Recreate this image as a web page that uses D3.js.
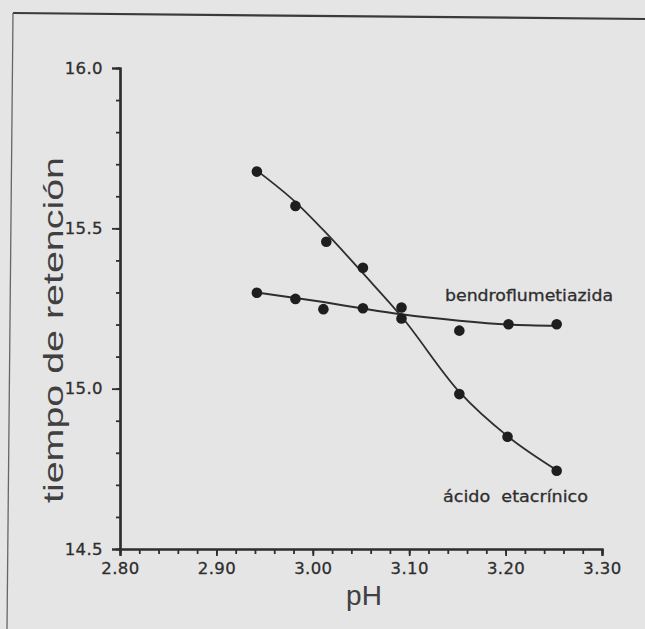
<!DOCTYPE html>
<html>
<head>
<meta charset="utf-8">
<script src="https://cdn.jsdelivr.net/npm/d3@7"></script>
<style>
  html, body { margin: 0; padding: 0; background: #e5e5e5; }
  svg { display: block; }
</style>
</head>
<body>
<div id="chart"></div>
<script>
var width = 645,
    height = 629;

// measured points, acido etacrinico
var phAcido = [2.942, 2.982, 3.014, 3.052, 3.092, 3.152, 3.202, 3.253];
var tAcido  = [15.677, 15.570, 15.458, 15.377, 15.219, 14.983, 14.850, 14.744];
// fitted curve at the same pH values
var fitAcido = [15.680, 15.582, 15.485, 15.360, 15.225, 14.990, 14.852, 14.746];

// measured points, bendroflumetiazida
var phBendro = [2.942, 2.982, 3.011, 3.052, 3.092, 3.152, 3.203, 3.253];
var tBendro  = [15.299, 15.280, 15.248, 15.251, 15.253, 15.181, 15.201, 15.201];
var fitBendro = [15.300, 15.283, 15.270, 15.250, 15.232, 15.212, 15.200, 15.196];

var xTicks = [2.80, 2.90, 3.00, 3.10, 3.20, 3.30];
var yTicks = [14.5, 15.0, 15.5, 16.0];

var ink = "#2e2e2e";

var svg = d3.select("#chart").append("svg")
  .attr("width", width)
  .attr("height", height);

svg.append("rect")
  .attr("width", width)
  .attr("height", height)
  .attr("fill", "#e5e5e5");

// scanned page frame
svg.append("path")
  .attr("d", "M645,19 L13,13")
  .attr("stroke", "#3a3a3a")
  .attr("stroke-width", 2.2)
  .attr("fill", "none");
svg.append("path")
  .attr("d", "M13,13 L7,629")
  .attr("stroke", "#666")
  .attr("stroke-width", 1.3)
  .attr("fill", "none");

var x = d3.scaleLinear().domain([2.80, 3.30]).range([120, 602]);
var y = d3.scaleLinear().domain([14.5, 16.0]).range([549, 68]);

var font = "'DejaVu Sans', sans-serif";

function styleLabels(g) {
  g.selectAll("text")
    .attr("font-family", font)
    .attr("font-size", 16.5)
    .attr("letter-spacing", 0.4)
    .attr("fill", ink)
    .attr("stroke", ink)
    .attr("stroke-width", 0.3);
}

// y axis
svg.append("g").attr("transform", "translate(" + x(2.80) + ",0)")
  .call(d3.axisLeft(y).tickValues(d3.range(14.6, 15.95, 0.1)).tickSize(4).tickFormat(""));
svg.append("g").attr("transform", "translate(" + x(2.80) + ",0)")
  .call(d3.axisLeft(y).tickValues(yTicks).tickSize(8).tickPadding(9).tickFormat(d3.format(".1f")))
  .call(styleLabels);

// x axis
svg.append("g").attr("transform", "translate(0," + y(14.5) + ")")
  .call(d3.axisBottom(x).tickValues(d3.range(2.82, 3.295, 0.02)).tickSize(5).tickFormat(""));
svg.append("g").attr("transform", "translate(0," + y(14.5) + ")")
  .call(d3.axisBottom(x).tickValues(xTicks).tickSize(7).tickPadding(6).tickFormat(d3.format(".2f")))
  .call(styleLabels);

svg.selectAll(".domain").attr("stroke", ink).attr("stroke-width", 2.2);
svg.selectAll(".tick line").attr("stroke", ink).attr("stroke-width", 1.8);

// axis titles
svg.append("text")
  .attr("transform", "translate(63,330) rotate(-90)")
  .attr("text-anchor", "middle")
  .attr("font-family", "'Liberation Sans', Arial, sans-serif")
  .attr("font-size", 28)
  .attr("fill", "#404040")
  .attr("textLength", 346)
  .attr("lengthAdjust", "spacingAndGlyphs")
  .text("tiempo de retención");

svg.append("text")
  .attr("x", 364)
  .attr("y", 605)
  .attr("text-anchor", "middle")
  .attr("font-family", "'Liberation Sans', Arial, sans-serif")
  .attr("font-size", 28)
  .attr("fill", "#404040")
  .text("pH");

// fitted curves
var line = d3.line()
  .x(function(d) { return x(d[0]); })
  .y(function(d) { return y(d[1]); })
  .curve(d3.curveMonotoneX);

svg.append("path")
  .datum(d3.zip(phAcido, fitAcido))
  .attr("d", line)
  .attr("fill", "none")
  .attr("stroke", ink)
  .attr("stroke-width", 1.8);

svg.append("path")
  .datum(d3.zip(phBendro, fitBendro))
  .attr("d", line)
  .attr("fill", "none")
  .attr("stroke", ink)
  .attr("stroke-width", 2);

// points
var pts = d3.zip(phAcido, tAcido).concat(d3.zip(phBendro, tBendro));
svg.append("g").selectAll("circle")
  .data(pts)
  .enter().append("circle")
    .attr("cx", function(d) { return x(d[0]); })
    .attr("cy", function(d) { return y(d[1]); })
    .attr("r", 5.3)
    .attr("fill", "#1e1e1e");

// series labels
svg.append("text")
  .attr("x", 445)
  .attr("y", 301)
  .attr("font-family", font)
  .attr("font-size", 16)
  .attr("fill", ink)
  .attr("stroke", ink)
  .attr("stroke-width", 0.3)
  .attr("textLength", 168)
  .attr("lengthAdjust", "spacingAndGlyphs")
  .text("bendroflumetiazida");

svg.append("text")
  .attr("x", 443)
  .attr("y", 502)
  .attr("font-family", font)
  .attr("font-size", 16)
  .attr("fill", ink)
  .attr("stroke", ink)
  .attr("stroke-width", 0.3)
  .attr("textLength", 145)
  .attr("lengthAdjust", "spacingAndGlyphs")
  .attr("xml:space", "preserve")
  .text("ácido  etacrínico");
</script>
</body>
</html>
